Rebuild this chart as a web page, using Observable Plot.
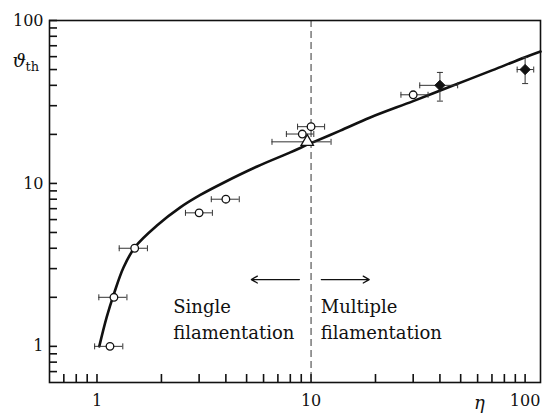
<!DOCTYPE html>
<html>
<head>
<meta charset="utf-8">
<script src="https://cdn.jsdelivr.net/npm/d3@7"></script>
<script src="https://cdn.jsdelivr.net/npm/@observablehq/plot@0.6"></script>
<style>
  html, body { margin: 0; padding: 0; background: #fff; }
  #chart { width: 542px; height: 415px; }
</style>
</head>
<body>
<div id="chart"></div>
<script>
// ---- data ----
// smooth theory curve (eta, theta)
const curveEta   = [1.025, 1.11, 1.2, 1.33, 1.51, 1.9, 2.45, 3.04, 3.9, 5.6, 8.0, 9.93, 13.7, 18.9, 30, 44.8, 70, 100, 118];
const curveTheta = [1.0, 1.51, 2.1, 3.05, 4.09, 5.5, 7.13, 8.5, 10.1, 12.7, 15.5, 17.6, 21.1, 25.4, 32, 39.3, 49.4, 59.5, 64.5];

// open circles with horizontal error bars
const circEta   = [1.15, 1.2, 1.5, 3.0, 4.0, 9.1, 10, 30];
const circTheta = [1.0, 2.0, 4.0, 6.6, 8.0, 20.1, 22.3, 35];
const circLo    = [0.975, 1.02, 1.27, 2.59, 3.42, 7.67, 8.65, 26.3];
const circHi    = [1.32, 1.38, 1.72, 3.46, 4.62, 10.3, 11.57, 35.2];

// open triangle
const triEta = [9.6], triTheta = [18.0], triLo = [6.57], triHi = [12.4];

// filled diamonds with x and y error bars
const diaEta    = [40, 100];
const diaTheta  = [40, 50];
const diaXLo    = [32.2, 91.8];
const diaXHi    = [48.4, 109.7];
const diaYLo    = [32, 41];
const diaYHi    = [48, 59.3];

// axis ticks
const xTicks = [0.7, 0.8, 0.9, 1, 2, 3, 4, 5, 6, 7, 8, 9, 10, 20, 30, 40, 50, 60, 70, 80, 90, 100];
const yTicks = [0.7, 0.8, 0.9, 1, 2, 3, 4, 5, 6, 7, 8, 9, 10, 20, 30, 40, 50, 60, 70, 80, 90, 100];
const xLabels = [1, 10, 100];
const yLabels = [1, 10, 100];
const boundary = [10];

// annotation texts
const leftText = ["Single\nfilamentation"];
const rightText = ["Multiple\nfilamentation"];

// ---- build tables ----
const curve = curveEta.map((e, i) => ({eta: e, theta: curveTheta[i]}));
const circles = circEta.map((e, i) => ({eta: e, theta: circTheta[i], lo: circLo[i], hi: circHi[i]}));
const tris = triEta.map((e, i) => ({eta: e, theta: triTheta[i], lo: triLo[i], hi: triHi[i]}));
const dias = diaEta.map((e, i) => ({eta: e, theta: diaTheta[i], xlo: diaXLo[i], xhi: diaXHi[i], ylo: diaYLo[i], yhi: diaYHi[i]}));
const hbars = [...circles, ...tris];

// ---- layout ----
const W = 542, H = 415;
const M = {top: 20, right: 2, bottom: 33, left: 49};
const innerW = W - M.left - M.right, innerH = H - M.top - M.bottom;
const tickLen = 8, capR = 3;
const ink = "#111", barInk = "#333";

const vbar = {draw(ctx, size) { const h = Math.sqrt(size / Math.PI); ctx.moveTo(0, -h); ctx.lineTo(0, h); }};
const hbar = {draw(ctx, size) { const h = Math.sqrt(size / Math.PI); ctx.moveTo(-h, 0); ctx.lineTo(h, 0); }};

const chart = Plot.plot({
  width: W, height: H,
  marginTop: M.top, marginRight: M.right, marginBottom: M.bottom, marginLeft: M.left,
  style: {fontFamily: "DejaVu Serif", fontSize: "16px", background: "#fff", color: ink},
  x: {type: "log", domain: [0.6, 118], ticks: xLabels, tickFormat: d => String(d), tickSize: 0, tickPadding: 12, label: null},
  y: {type: "log", domain: [0.6, 100], ticks: yLabels, tickFormat: d => String(d), tickSize: 0, tickPadding: 6, label: null},
  marks: [
    // inward ticks
    Plot.tickX(xTicks, {x: d => d, stroke: ink, strokeWidth: 1.6, insetTop: innerH - tickLen}),
    Plot.tickY(yTicks, {y: d => d, stroke: ink, strokeWidth: 1.6, insetRight: innerW - tickLen}),
    // boundary
    Plot.ruleX(boundary, {x: d => d, stroke: "#333", strokeWidth: 1, strokeDasharray: "7,4"}),
    // curve
    Plot.line(curve, {x: "eta", y: "theta", curve: "catmull-rom", stroke: ink, strokeWidth: 2.6}),
    // horizontal error bars
    Plot.ruleY(hbars, {y: "theta", x1: "lo", x2: "hi", stroke: barInk, strokeWidth: 1}),
    Plot.dot(hbars, {x: "lo", y: "theta", symbol: vbar, r: capR, fill: "none", stroke: barInk, strokeWidth: 1}),
    Plot.dot(hbars, {x: "hi", y: "theta", symbol: vbar, r: capR, fill: "none", stroke: barInk, strokeWidth: 1}),
    // diamond error bars
    Plot.ruleY(dias, {y: "theta", x1: "xlo", x2: "xhi", stroke: barInk, strokeWidth: 1}),
    Plot.ruleX(dias, {x: "eta", y1: "ylo", y2: "yhi", stroke: barInk, strokeWidth: 1}),
    Plot.dot(dias, {x: "xlo", y: "theta", symbol: vbar, r: capR, fill: "none", stroke: barInk, strokeWidth: 1}),
    Plot.dot(dias, {x: "xhi", y: "theta", symbol: vbar, r: capR, fill: "none", stroke: barInk, strokeWidth: 1}),
    Plot.dot(dias, {x: "eta", y: "ylo", symbol: hbar, r: capR, fill: "none", stroke: barInk, strokeWidth: 1}),
    Plot.dot(dias, {x: "eta", y: "yhi", symbol: hbar, r: capR, fill: "none", stroke: barInk, strokeWidth: 1}),
    // points
    Plot.dot(circles, {x: "eta", y: "theta", symbol: "circle", r: 3.8, fill: "#fff", stroke: ink, strokeWidth: 1.3}),
    Plot.dot(tris, {x: "eta", y: "theta", symbol: "triangle", r: 4.6, fill: "#fff", stroke: ink, strokeWidth: 1.3}),
    Plot.dot(dias, {x: "eta", y: "theta", symbol: "diamond2", r: 4.6, fill: ink, stroke: ink, strokeWidth: 1}),
    // arrows
    Plot.arrow([0], {x1: 8.82, x2: 5.26, y1: 2.57, y2: 2.57, stroke: ink, strokeWidth: 1.3, headLength: 8}),
    Plot.arrow([0], {x1: 11.17, x2: 18.7, y1: 2.57, y2: 2.57, stroke: ink, strokeWidth: 1.3, headLength: 8}),
    // annotations
    Plot.text(leftText, {x: 2.27, y: 1.115, text: d => d, textAnchor: "start", lineAnchor: "bottom", lineHeight: 1.4, fontSize: 18, fill: ink}),
    Plot.text(rightText, {x: 11.1, y: 1.115, text: d => d, textAnchor: "start", lineAnchor: "bottom", lineHeight: 1.4, fontSize: 18, fill: ink}),
    // axis titles
    Plot.text(["η"], {frameAnchor: "bottom-right", text: d => d, dx: -61, dy: 26, textAnchor: "middle", lineAnchor: "bottom", fontStyle: "italic", fontSize: 18, fill: ink}),
    Plot.text(["ϑ"], {frameAnchor: "top-left", text: d => d, dx: -37, dy: 46, textAnchor: "start", lineAnchor: "bottom", fontStyle: "italic", fontSize: 19, fill: ink}),
    Plot.text(["th"], {frameAnchor: "top-left", text: d => d, dx: -24, dy: 50, textAnchor: "start", lineAnchor: "bottom", fontSize: 13, fill: ink}),
    // frame
    Plot.frame({stroke: ink, strokeWidth: 1.6})
  ]
});
document.getElementById("chart").appendChild(chart);
</script>
</body>
</html>
